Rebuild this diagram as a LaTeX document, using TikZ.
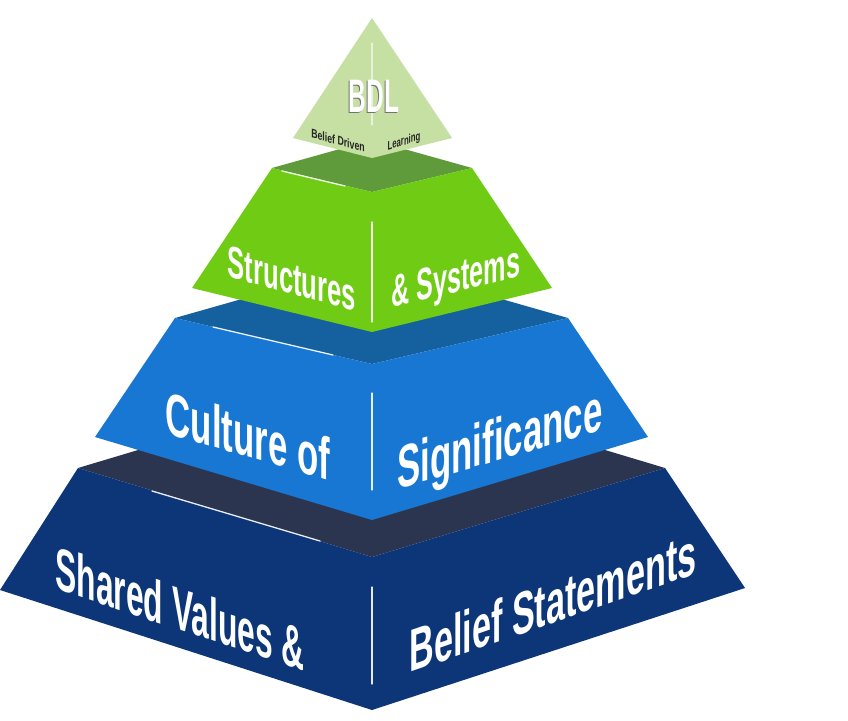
\documentclass[tikz,border=0pt]{standalone}
\usepackage{fontspec}
\usepackage{tikz}
\usetikzlibrary{positioning}
\usetikzlibrary{calc}
\newfontfamily\pyrfont{Liberation Sans}
\definecolor{bdlface}{HTML}{C6DFA2}
\definecolor{greentop}{HTML}{5F9B3B}
\definecolor{greenface}{HTML}{6FCB14}
\definecolor{bluetop}{HTML}{15609E}
\definecolor{blueface}{HTML}{1877D2}
\definecolor{navytop}{HTML}{2B3550}
\definecolor{navyface}{HTML}{0C3677}
\tikzset{layertxt/.style={text=white,inner sep=0pt,anchor=base,font=\pyrfont\bfseries\fontsize{60}{64}\selectfont},
smalltxt/.style={text=black!85,inner sep=0pt,anchor=base,font=\pyrfont\bfseries\fontsize{12.5}{14}\selectfont},
shine/.style={white,line width=1.3pt,opacity=0.9,line cap=round}}
\newcommand{\bdlmark}{\makebox[0pt][l]{\kern-1.8pt\raisebox{-1.2pt}{\textcolor{black!55}{BDL}}}BDL}

\begin{document}
\begin{tikzpicture}[x=1pt,y=-1pt]
\useasboundingbox[fill=white] (0,0) rectangle (848,720);
% bottom layer
\fill[navytop] (78,468) -- (372,380) -- (665,468) -- (372,557) -- cycle;
\fill[navyface] (78,468) -- (372,557) -- (665,468) -- (745,588) -- (372,710) -- (0,590) -- cycle;
\draw[shine] (152,491) -- (320,541);
\draw[shine] (372,587) -- (372,684);
% middle layer
\fill[bluetop] (175,318) -- (372,262) -- (568,318) -- (372,364) -- cycle;
\fill[blueface] (175,318) -- (372,364) -- (568,318) -- (648,437) -- (372,520) -- (95,437) -- cycle;
\draw[shine] (213,327) -- (333,355);
\draw[shine] (372,393) -- (372,490);
% upper layer
\fill[greentop] (272,168) -- (372,140) -- (472,168) -- (372,192) -- cycle;
\fill[greenface] (272,168) -- (372,192) -- (472,168) -- (552,288) -- (372,332) -- (192,288) -- cycle;
\draw[shine] (282,171) -- (345,186);
\draw[shine] (372,222) -- (372,322);
% top
\fill[bdlface] (372,18) -- (452,138) -- (372,158) -- (293,138) -- cycle;
\draw[shine,opacity=0.6] (372,43) -- (372,125);

\node[layertxt,font=\pyrfont\bfseries\fontsize{47}{50}\selectfont,cm={0.52,0,0,1,(0,0)}] (bdl) at (374,112) {\bdlmark};
\node[smalltxt,cm={0.7,-0.19,0,1,(0,0)}] (driven) at (338,145) {Belief Driven};
\node[smalltxt,cm={0.62,0.19,0,1,(0,0)}] (learning) at (404,145) {Learning};

\node[layertxt,font=\pyrfont\bfseries\fontsize{45}{49}\selectfont,cm={0.57,-0.154,0,1,(0,0)}] (structures) at (292,294) {Structures};
\node[layertxt,font=\pyrfont\bfseries\fontsize{45}{49}\selectfont,cm={0.56,0.134,0,1,(0,0)}] (systems) at (456,292) {\& Systems};
\node[layertxt,cm={0.58,-0.168,0,1,(0,0)}] (culture) at (248,457) {Culture of};
\node[layertxt,cm={0.58,0.168,0,1,(0,0)}] (signif) at (500,460) {Significance};
\node[layertxt,cm={0.53,-0.175,0,1,(0,0)}] (shared) at (180,630) {Shared Values \&};
\node[layertxt,cm={0.57,0.197,0,1,(0,0)}] (beliefst) at (553,623) {Belief Statements};
\end{tikzpicture}
\end{document}
